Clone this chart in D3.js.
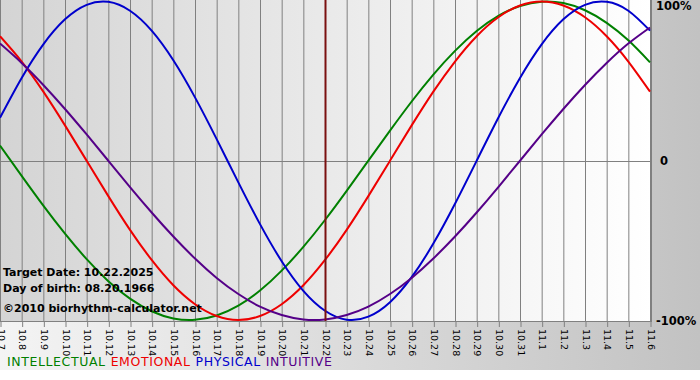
<!DOCTYPE html>
<html><head><meta charset="utf-8">
<script src="https://cdn.jsdelivr.net/npm/d3@7"></script>
<style>body{margin:0;background:#fff}svg{display:block}</style>
</head><body>
<svg id="c" width="700" height="380"></svg>
<script>
const days = ["10.7","10.8","10.9","10.10","10.11","10.12","10.13","10.14","10.15","10.16","10.17","10.18","10.19","10.20","10.21","10.22","10.23","10.24","10.25","10.26","10.27","10.28","10.29","10.30","10.31","11.1","11.2","11.3","11.4","11.5","11.6"];
const physical = [0.27,0.52,0.731,0.888,0.979,0.998,0.942,0.817,0.631,0.398,0.136,-0.136,-0.398,-0.631,-0.817,-0.942,-0.998,-0.979,-0.888,-0.731,-0.52,-0.27,0,0.27,0.52,0.731,0.888,0.979,0.998,0.942,0.817];
const emotional = [0.782,0.623,0.434,0.222,0,-0.222,-0.434,-0.623,-0.782,-0.901,-0.975,-1,-0.975,-0.901,-0.782,-0.623,-0.434,-0.222,0,0.222,0.434,0.623,0.782,0.901,0.975,1,0.975,0.901,0.782,0.623,0.434];
const intellectual = [0.095,-0.095,-0.282,-0.458,-0.618,-0.756,-0.866,-0.945,-0.99,-0.999,-0.972,-0.91,-0.815,-0.69,-0.541,-0.372,-0.189,0,0.189,0.372,0.541,0.69,0.815,0.91,0.972,0.999,0.99,0.945,0.866,0.756,0.618];
const intuitive = [0.736,0.614,0.476,0.325,0.165,0,-0.165,-0.325,-0.476,-0.614,-0.736,-0.837,-0.916,-0.969,-0.997,-0.997,-0.969,-0.916,-0.837,-0.736,-0.614,-0.476,-0.325,-0.165,0,0.165,0.325,0.476,0.614,0.736,0.837];
const yTicks = [{v:1,t:"100%"},{v:0,t:"0"},{v:-1,t:"-100%"}];
const targetDay = "10.22";
const infoLines = ["Target Date: 10.22.2025","Day of birth: 08.20.1966","©2010 biorhythm-calculator.net"];
const legend = [{t:"INTELLECTUAL",c:"#008000"},{t:"EMOTIONAL",c:"#ee0000"},{t:"PHYSICAL",c:"#0000cc"},{t:"INTUITIVE",c:"#550088"}];
const series = [
  {vals:intellectual,c:"#008000"},
  {vals:emotional,c:"#ee0000"},
  {vals:physical,c:"#0000cc"},
  {vals:intuitive,c:"#550088"}
];

const svg = d3.select("#c");
const defs = svg.append("defs");
const g1 = defs.append("linearGradient").attr("id","outer").attr("x1","0").attr("x2","1").attr("y1","0").attr("y2","0");
g1.append("stop").attr("offset","0").attr("stop-color","#f4f4f4");
g1.append("stop").attr("offset","1").attr("stop-color","#c2c2c2");
const g2 = defs.append("linearGradient").attr("id","plot").attr("x1","0").attr("x2","1").attr("y1","0").attr("y2","0");
g2.append("stop").attr("offset","0").attr("stop-color","#d4d4d4");
g2.append("stop").attr("offset","1").attr("stop-color","#ffffff");
defs.append("clipPath").attr("id","clip").append("rect").attr("x",0).attr("y",0).attr("width",651).attr("height",322);

const W = 651, H = 322;
svg.append("rect").attr("width",700).attr("height",370).attr("fill","url(#outer)");
svg.append("rect").attr("width",W).attr("height",H).attr("fill","url(#plot)");

const x = d3.scalePoint().domain(days).range([0,650]);
const y = d3.scaleLinear().domain([-1,1]).range([320,1.5]);

// vertical grid
svg.append("g").selectAll("line").data(days).join("line")
  .attr("x1",d=>x(d)+0.5).attr("x2",d=>x(d)+0.5).attr("y1",0).attr("y2",H)
  .attr("stroke","#808080").attr("stroke-width",1);
// zero line
svg.append("line").attr("x1",0).attr("x2",W).attr("y1",Math.round(y(0))+0.5).attr("y2",Math.round(y(0))+0.5).attr("stroke","#808080");
// plot border right and bottom
svg.append("line").attr("x1",W+0.5).attr("x2",W+0.5).attr("y1",0).attr("y2",H).attr("stroke","#808080");
svg.append("line").attr("x1",0).attr("x2",W).attr("y1",H-0.5).attr("y2",H-0.5).attr("stroke","#808080");

// x axis
const xAxis = d3.axisBottom(x).tickSize(6).tickPadding(4);
const ax = svg.append("g").attr("transform",`translate(0.5,${H-1})`).call(xAxis);
ax.select(".domain").remove();
ax.selectAll(".tick line").attr("stroke","#808080");
ax.selectAll(".tick text").attr("transform","rotate(90)").attr("text-anchor","start")
  .attr("x",8).attr("y",0).attr("dy","0.35em")
  .attr("font-family","DejaVu Sans, Verdana, sans-serif").attr("font-size",9.5).attr("fill","#000");

// curves
const line = d3.line().x((d,i)=>x(days[i])).y(d=>y(d)).curve(d3.curveNatural);
const cg = svg.append("g").attr("clip-path","url(#clip)");
series.forEach(s=>{
  cg.append("path").attr("d",line(s.vals)).attr("fill","none").attr("stroke",s.c).attr("stroke-width",2);
});

// target line
svg.append("line").attr("x1",x(targetDay)+0.5).attr("x2",x(targetDay)+0.5).attr("y1",0).attr("y2",H-1)
  .attr("stroke","#7a1010").attr("stroke-width",2);

// y labels
svg.append("g").selectAll("text").data(yTicks).join("text")
  .attr("x",d=>d.v===0?660:656).attr("y",d=>y(d.v)).attr("dy",d=>d.v===1?"0.75em":(d.v===-1?"0.45em":"0.4em"))
  .attr("font-family","DejaVu Sans, Verdana, sans-serif").attr("font-weight","bold").attr("font-size",11.5)
  .attr("fill","#000").text(d=>d.t);

// info text
svg.append("g").selectAll("text").data(infoLines).join("text")
  .attr("x",3).attr("y",(d,i)=>[276,292,312][i])
  .attr("font-family","DejaVu Sans, Verdana, sans-serif").attr("font-weight","bold").attr("font-size",11)
  .attr("fill","#000").text(d=>d);

// legend
const lt = svg.append("text").attr("x",7).attr("y",366)
  .attr("font-family","DejaVu Sans, Verdana, sans-serif").attr("font-size",12.5).attr("letter-spacing",0.6);
legend.forEach((l,i)=>{
  lt.append("tspan").attr("fill",l.c).attr("dx",i?5:0).text(l.t);
});
</script>
</body></html>
